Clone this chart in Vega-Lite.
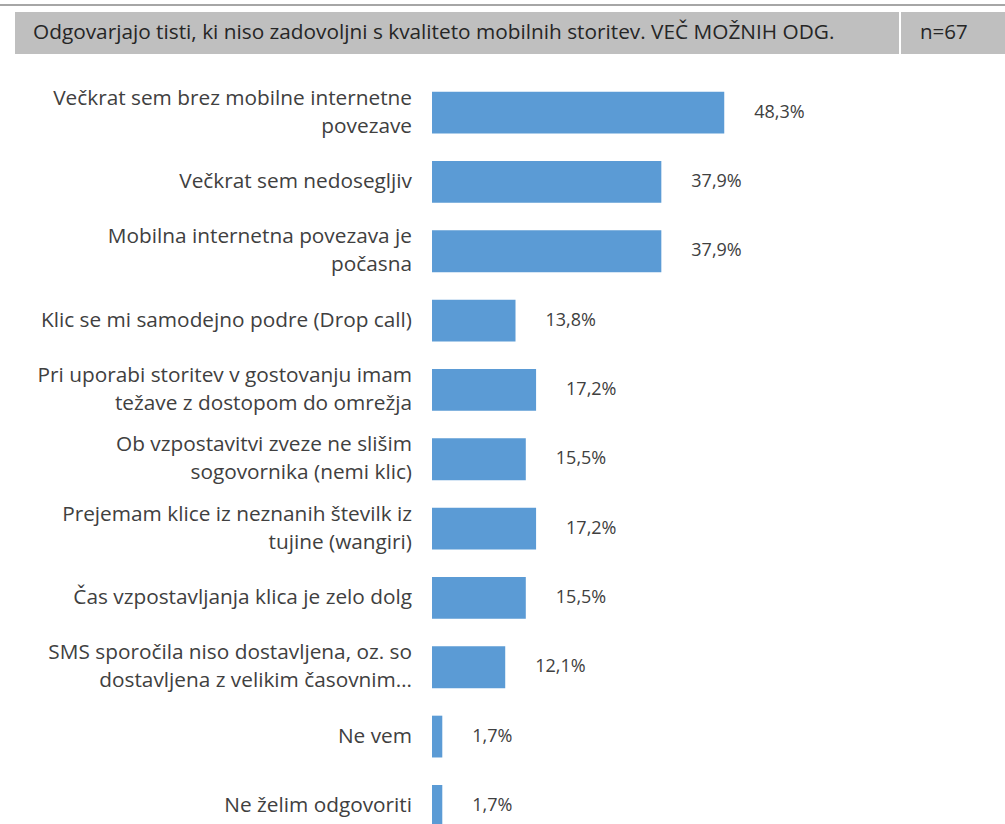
{
  "$schema": "https://vega.github.io/schema/vega-lite/v6.json",
  "padding": {"left": 0, "top": 4, "right": 0, "bottom": 0},
  "background": "white",
  "spacing": 6,
  "config": {
    "view": {"stroke": null},
    "font": "Open Sans",
    "locale": {"number": {"decimal": ",", "thousands": ".", "grouping": [3], "currency": ["", " €"]}}
  },
  "vconcat": [
    {
      "width": 1005,
      "height": 2,
      "view": {"fill": "#a6a6a6", "stroke": null},
      "data": {"values": []},
      "mark": {"type": "text"},
      "encoding": {"text": {"field": "t"}}
    },
    {
      "spacing": 2,
      "hconcat": [
        {
          "width": 13,
          "height": 42,
          "data": {"values": []},
          "mark": {"type": "text"},
          "encoding": {"text": {"field": "t"}}
        },
        {
          "width": 884,
          "height": 42,
          "view": {"fill": "#bfbfbf", "stroke": null},
          "data": {"values": [{"t": "Odgovarjajo tisti, ki niso zadovoljni s kvaliteto mobilnih storitev. VEČ MOŽNIH ODG."}]},
          "mark": {"type": "text", "align": "left", "baseline": "middle", "dx": 18, "fontSize": 20.8, "color": "#262626"},
          "encoding": {
            "x": {"datum": 0, "type": "quantitative", "scale": {"domain": [0, 1]}, "axis": null},
            "text": {"field": "t"}
          }
        },
        {
          "width": 104,
          "height": 42,
          "view": {"fill": "#bfbfbf", "stroke": null},
          "data": {"values": [{"t": "n=67"}]},
          "mark": {"type": "text", "align": "left", "baseline": "middle", "dx": 19, "fontSize": 20.5, "color": "#262626"},
          "encoding": {
            "x": {"datum": 0, "type": "quantitative", "scale": {"domain": [0, 1]}, "axis": null},
            "text": {"field": "t"}
          }
        }
      ]
    },
    {
      "width": 1005,
      "height": 798.5,
      "data": {
        "values": [
          {"q": "Večkrat sem brez mobilne internetne povezave", "lines": ["Večkrat sem brez mobilne internetne", "povezave"], "p": 0.483},
          {"q": "Večkrat sem nedosegljiv", "lines": ["Večkrat sem nedosegljiv"], "p": 0.379},
          {"q": "Mobilna internetna povezava je počasna", "lines": ["Mobilna internetna povezava je", "počasna"], "p": 0.379},
          {"q": "Klic se mi samodejno podre (Drop call)", "lines": ["Klic se mi samodejno podre (Drop call)"], "p": 0.138},
          {"q": "Pri uporabi storitev v gostovanju imam težave z dostopom do omrežja", "lines": ["Pri uporabi storitev v gostovanju imam", "težave z dostopom do omrežja"], "p": 0.172},
          {"q": "Ob vzpostavitvi zveze ne slišim sogovornika (nemi klic)", "lines": ["Ob vzpostavitvi zveze ne slišim", "sogovornika (nemi klic)"], "p": 0.155},
          {"q": "Prejemam klice iz neznanih številk iz tujine (wangiri)", "lines": ["Prejemam klice iz neznanih številk iz", "tujine (wangiri)"], "p": 0.172},
          {"q": "Čas vzpostavljanja klica je zelo dolg", "lines": ["Čas vzpostavljanja klica je zelo dolg"], "p": 0.155},
          {"q": "SMS sporočila niso dostavljena, oz. so dostavljena z velikim časovnim…", "lines": ["SMS sporočila niso dostavljena, oz. so", "dostavljena z velikim časovnim…"], "p": 0.121},
          {"q": "Ne vem", "lines": ["Ne vem"], "p": 0.017},
          {"q": "Ne želim odgovoriti", "lines": ["Ne želim odgovoriti"], "p": 0.017}
        ]
      },
      "encoding": {
        "y": {
          "field": "q",
          "type": "nominal",
          "sort": null,
          "axis": null,
          "scale": {"paddingInner": 0.397, "paddingOuter": 0.457}
        }
      },
      "layer": [
        {
          "mark": {"type": "bar", "color": "#5b9bd5"},
          "encoding": {
            "x": {"field": "p", "type": "quantitative", "scale": {"domain": [-0.714, 0.947], "nice": false}, "axis": null}
          }
        },
        {
          "transform": [{"filter": "length(datum.lines) == 1"}],
          "mark": {"type": "text", "align": "right", "baseline": "middle", "dx": -20, "fontSize": 20.8, "lineHeight": 28, "color": "#404040"},
          "encoding": {
            "x": {"datum": 0, "type": "quantitative"},
            "text": {"field": "lines"}
          }
        },
        {
          "transform": [{"filter": "length(datum.lines) == 2"}],
          "mark": {"type": "text", "align": "right", "baseline": "middle", "dx": -20, "dy": -14, "fontSize": 20.8, "lineHeight": 28, "color": "#404040"},
          "encoding": {
            "x": {"datum": 0, "type": "quantitative"},
            "text": {"field": "lines"}
          }
        },
        {
          "mark": {"type": "text", "align": "left", "baseline": "middle", "dx": 30, "fontSize": 18, "color": "#404040"},
          "encoding": {
            "x": {"field": "p", "type": "quantitative"},
            "text": {"field": "p", "format": ".1%"}
          }
        }
      ]
    }
  ]
}
